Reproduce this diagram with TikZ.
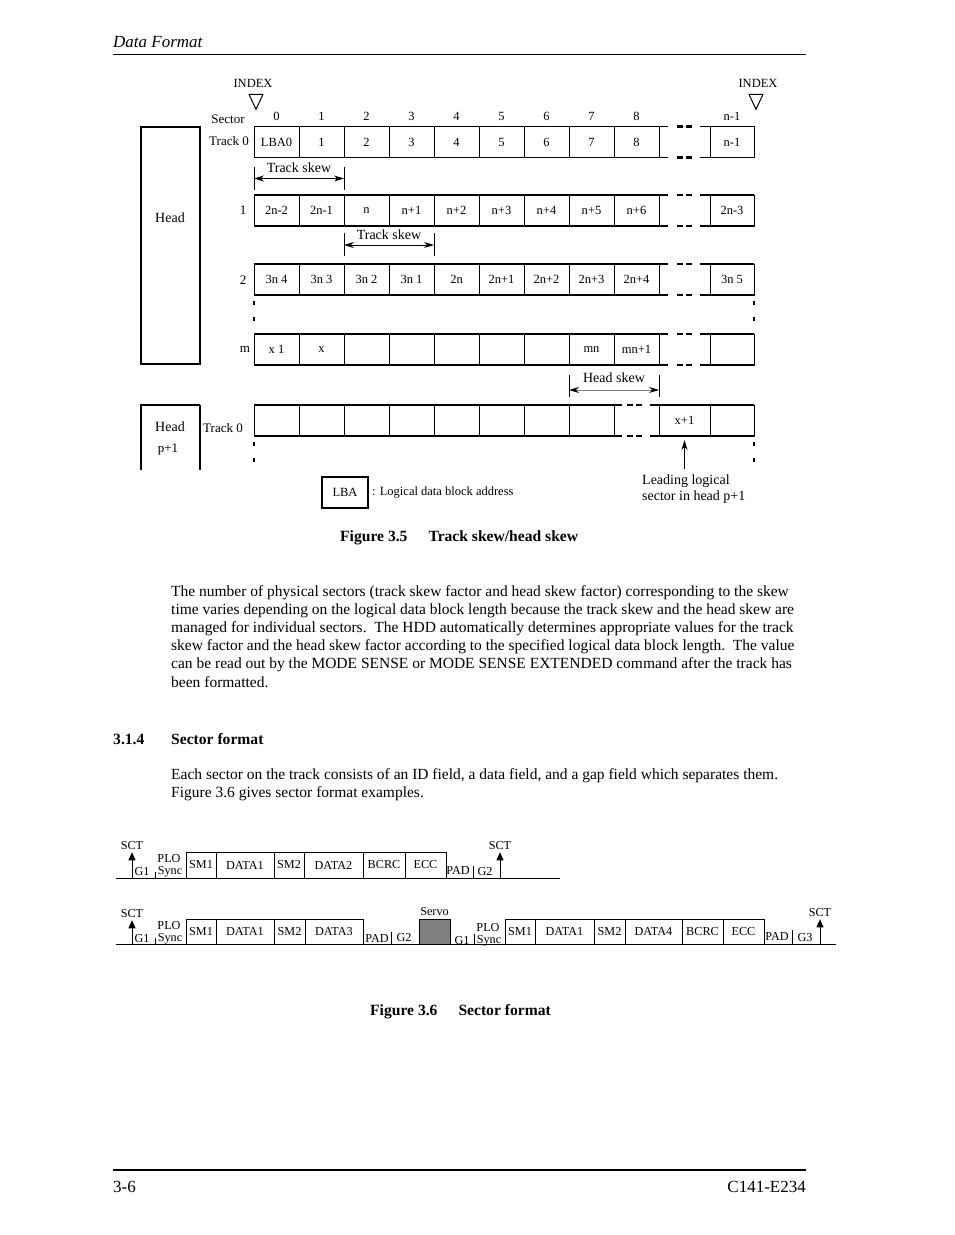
\documentclass[tikz,border=0pt]{standalone}
\usepackage{fontspec}
\setmainfont{Liberation Serif}
\usetikzlibrary{arrows.meta, positioning, calc}
\definecolor{cServo}{RGB}{128,128,128}
\tikzset{
	cell/.style   ={rectangle, draw=black, line width=0.9pt, minimum width=45pt, minimum height=31pt, inner sep=0pt, outer sep=0pt, font=\fontsize{12.5}{14}\selectfont},
	num/.style    ={inner sep=0pt, font=\fontsize{12.5}{14}\selectfont},
	lbl/.style    ={inner sep=0pt, font=\fontsize{13}{15}\selectfont},
	lblbig/.style ={inner sep=0pt, font=\fontsize{14}{16}\selectfont},
	rowedge/.style={line width=1.5pt},
	brk/.style    ={line width=2.4pt, dash pattern=on 6pt off 3pt},
	vdots/.style  ={line width=2.6pt, dash pattern=on 4pt off 12pt},
	skew/.style   ={{Stealth[length=10pt,width=6pt]}-{Stealth[length=10pt,width=6pt]}, line width=0.9pt},
	tick/.style   ={line width=0.8pt},
	% sector format styles
	fld/.style    ={rectangle, draw=black, line width=0.8pt, minimum height=26pt, inner sep=0pt, outer sep=0pt, font=\fontsize{12.2}{14}\selectfont},
	ftxt/.style   ={inner sep=0pt, font=\fontsize{12.2}{13}\selectfont},
	sct/.style    ={-{Triangle[length=8pt,width=7pt]}, line width=0.9pt},
	body/.style   ={inner sep=0pt, align=left, anchor=north west, font=\fontsize{15.5}{18.2}\selectfont},
	capt/.style   ={inner sep=0pt, anchor=west, font=\fontsize{15.6}{18}\selectfont\bfseries},
	pagetxt/.style={inner sep=0pt, font=\fontsize{17}{20}\selectfont},
}
\begin{document}
\begin{tikzpicture}[x=1pt, y=-1pt]
	\useasboundingbox (0,0) rectangle (954,1235);
	% page header
	\node[pagetxt, anchor=base west, font=\fontsize{17}{20}\selectfont\itshape] (hdr) at (113,47) {Data Format};
	\draw[line width=1pt] (113,54) -- (806,54);

	% Figure 3.5
	\node[draw, line width=1.2pt, minimum width=59pt, minimum height=237pt, inner sep=0pt] (head) at (170.5,245.5) {};
	\node[lblbig] (headtxt) at (170,218) {Head};
	\draw[line width=1.2pt] (141,470) -- (141,405) -- (200,405);
	\draw[line width=2pt] (200,405) -- (200,470);
	\node[lblbig] (headp) at (170,427) {Head};
	\node[lbl] (headpn) at (168,450) {p+1};

	\foreach \t [count=\i from 0] in {LBA0,1,2,3,4,5,6,7,8}
		\node[cell] (r0-\i) at ({276.5+45*\i},142) {\t};
	\node[cell, minimum width=44pt] (r0-l) at (732,142) {n-1};
	\foreach \t [count=\i from 0] in {2n-2,2n-1,n,n+1,n+2,n+3,n+4,n+5,n+6}
		\node[cell] (r1-\i) at ({276.5+45*\i},210.5) {\t};
	\node[cell, minimum width=44pt] (r1-l) at (732,210.5) {2n-3};
	\foreach \t [count=\i from 0] in {3n 4,3n 3,3n 2,3n 1,2n,2n+1,2n+2,2n+3,2n+4}
		\node[cell] (r2-\i) at ({276.5+45*\i},279.5) {\t};
	\node[cell, minimum width=44pt] (r2-l) at (732,279.5) {3n 5};
	\foreach \t [count=\i from 0] in {x 1,x,,,,,,mn,mn+1}
		\node[cell] (rm-\i) at ({276.5+45*\i},349.5) {\t};
	\node[cell, minimum width=44pt] (rm-l) at (732,349.5) {};

	% heavy row edges and breaks
	\foreach \r/\lw in {0/1.5, 1/1.5, 2/1.5, m/2.2}
		\foreach \aw/\ae in {north west/north east, south west/south east}{
			\draw[rowedge, line width=\lw pt] (r\r-0.\aw) -- (r\r-8.\ae) -- ++(9,0);
			\draw[brk] ($(r\r-8.\ae)+(18,0)$) -- ++(16,0);
			\draw[rowedge, line width=\lw pt] ($(r\r-l.\aw)+(-10,0)$) -- (r\r-l.\ae);
		}

	% head p+1, track 0
	\foreach \i in {0,...,7}
		\node[cell] (rp-\i) at ({276.5+45*\i},420.5) {};
	\node[cell, minimum width=51pt] (rp-x) at (684.5,420.5) {x+1};
	\node[cell, minimum width=44pt] (rp-l) at (732,420.5) {};
	\foreach \aw/\ae in {north west/north east, south west/south east}{
		\draw[line width=2pt] (rp-0.\aw) -- (rp-7.\ae) -- ++(8,0);
		\draw[brk] ($(rp-7.\ae)+(13,0)$) -- ++(15,0);
		\draw[line width=2pt] ($(rp-x.\aw)+(-9,0)$) -- (rp-l.\ae);
	}

	% sector numbers and index marks
	\foreach \t [count=\i from 0] in {0,...,8}
		\node[num] (sn-\i) at ($(r0-\i.north)+(0,-10)$) {\t};
	\node[num] (sn-l) at ($(r0-l.north)+(0,-10)$) {n-1};
	\node[num] (idx1) at (253,83) {INDEX};
	\draw[line width=1pt] ($(idx1.south)+(-4,7)$) -- ++(14,0) -- ++(-7,15) -- cycle;
	\node[num] (idx2) at (758,83) {INDEX};
	\draw[line width=1pt] ($(idx2.south)+(-9,7)$) -- ++(14,0) -- ++(-7,15) -- cycle;

	\node[lbl] (lsec) at (228,119) {Sector};
	\node[lbl] (lt0) at (229,141) {Track 0};
	\node[lbl] (lt1) at (243,210) {1};
	\node[lbl] (lt2) at (243,280) {2};
	\node[lbl] (ltm) at (245,349) {m};
	\node[lbl] (ltp) at (223,428) {Track 0};

	\draw[vdots] ($(r2-0.south west)+(0,6)$) -- ++(0,22);
	\draw[vdots] ($(r2-l.south east)+(0,6)$) -- ++(0,22);
	\draw[vdots] ($(rp-0.south west)+(0,6)$) -- ++(0,22);
	\draw[vdots] ($(rp-l.south east)+(0,6)$) -- ++(0,22);

	% skew arrows
	\coordinate (ts1l) at ($(r0-0.south west)+(0,21)$);
	\coordinate (ts1r) at ($(r0-1.south east)+(0,21)$);
	\draw[tick] ($(ts1l)+(0,-12)$) -- ++(0,23);
	\draw[tick] ($(ts1r)+(0,-12)$) -- ++(0,23);
	\draw[skew] (ts1l) -- (ts1r);
	\node[lblbig] (ts1) at ($(ts1l)!0.5!(ts1r)+(0,-11)$) {Track skew};

	\coordinate (ts2l) at ($(r1-1.south east)+(0,19)$);
	\coordinate (ts2r) at ($(r1-3.south east)+(0,19)$);
	\draw[tick] ($(ts2l)+(0,-12)$) -- ++(0,23);
	\draw[tick] ($(ts2r)+(0,-12)$) -- ++(0,23);
	\draw[skew] (ts2l) -- (ts2r);
	\node[lblbig] (ts2) at ($(ts2l)!0.5!(ts2r)+(0,-10)$) {Track skew};

	\coordinate (hsl) at ($(rm-7.south west)+(0,25)$);
	\coordinate (hsr) at ($(rm-8.south east)+(0,25)$);
	\draw[tick] ($(hsl)+(0,-15)$) -- ++(0,22);
	\draw[tick] ($(hsr)+(0,-15)$) -- ++(0,22);
	\draw[skew, draw=gray, {Stealth[length=10pt,width=6pt,color=black]}-{Stealth[length=10pt,width=6pt,color=black]}] (hsl) -- (hsr);
	\node[lblbig] (hs) at ($(hsl)!0.5!(hsr)+(0,-12)$) {Head skew};

	\node[lblbig, align=left, anchor=north west] (lead) at (642,475) {Leading logical\\sector in head p+1};
	\draw[-{Stealth[length=10pt,width=6pt]}, line width=0.9pt] ($(rp-x.south |- lead.north)+(0,-6)$) -- ($(rp-x.south)+(0,4)$);

	\node[cell, minimum width=46pt, line width=1.1pt] (lba) at (345,492.5) {LBA};
	\node[num, right=4pt of lba] (lbatxt) {: Logical data block address};

	\node[capt] (cap1) at (340,538) {Figure 3.5\hspace{21pt}Track skew/head skew};

	% text
	\node[body] (para1) at (171,585) {The number of physical sectors (track skew factor and head skew factor) corresponding to the skew\\
		time varies depending on the logical data block length because the track skew and the head skew are\\
		managed for individual sectors.\ \ The HDD automatically determines appropriate values for the track\\
		skew factor and the head skew factor according to the specified logical data block length.\ \ The value\\
		can be read out by the MODE SENSE or MODE SENSE EXTENDED command after the track has\\
		been formatted.};
	\node[capt] (secno) at (113,739) {3.1.4};
	\node[capt] (sectit) at (171,739) {Sector format};
	\node[body] (para2) at (171,768) {Each sector on the track consists of an ID field, a data field, and a gap field which separates them.\\
		Figure 3.6 gives sector format examples.};

	% Figure 3.6, first format
	\coordinate (f1a) at (116,878);
	\coordinate (f1b) at (560,878);
	\draw[line width=0.9pt] (f1a) -- (f1b);
	\node[fld, minimum width=30pt, anchor=south west] (a-sm1) at (186,878) {SM1};
	\node[fld, minimum width=58pt, right=0pt of a-sm1] (a-d1) {DATA1};
	\node[fld, minimum width=30pt, right=0pt of a-d1] (a-sm2) {SM2};
	\node[fld, minimum width=59pt, right=0pt of a-sm2] (a-d2) {DATA2};
	\node[fld, minimum width=42pt, right=0pt of a-d2] (a-bcrc) {BCRC};
	\node[fld, minimum width=41pt, right=0pt of a-bcrc] (a-ecc) {ECC};
	\node[ftxt] (a-sct1) at (132,846) {SCT};
	\draw[sct] (a-sct1.south |- f1a) -- ($(a-sct1.south)+(0,2)$);
	\node[ftxt] (a-g1) at (142,872) {G1};
	\draw[tick] (155,878) -- ++(0,-6);
	\node[ftxt] (a-plo) at (169,859) {PLO};
	\node[ftxt] (a-sync) at (170,872) {Sync};
	\node[ftxt] (a-pad) at (458,870) {PAD};
	\draw[tick] (473,878) -- ++(0,-12);
	\node[ftxt] (a-g2) at (485,872) {G2};
	\node[ftxt] (a-sct2) at (500,846) {SCT};
	\draw[sct] (a-sct2.south |- f1a) -- ($(a-sct2.south)+(0,2)$);

	% Figure 3.6, second format
	\coordinate (f2a) at (116,944);
	\coordinate (f2b) at (836,944);
	\draw[line width=0.9pt] (f2a) -- (f2b);
	\node[fld, minimum height=25pt, minimum width=30pt, anchor=south west] (b-sm1) at (186,944) {SM1};
	\node[fld, minimum height=25pt, minimum width=58pt, right=0pt of b-sm1] (b-d1) {DATA1};
	\node[fld, minimum height=25pt, minimum width=31pt, right=0pt of b-d1] (b-sm2) {SM2};
	\node[fld, minimum height=25pt, minimum width=58pt, right=0pt of b-sm2] (b-d3) {DATA3};
	\node[fld, minimum height=25pt, minimum width=31pt, fill=cServo, anchor=south west] (servo) at (419,944) {};
	\node[ftxt, above=3pt of servo] (servotxt) {Servo};
	\node[fld, minimum height=25pt, minimum width=30pt, anchor=south west] (c-sm1) at (505,944) {SM1};
	\node[fld, minimum height=25pt, minimum width=59pt, right=0pt of c-sm1] (c-d1) {DATA1};
	\node[fld, minimum height=25pt, minimum width=31pt, right=0pt of c-d1] (c-sm2) {SM2};
	\node[fld, minimum height=25pt, minimum width=57pt, right=0pt of c-sm2] (c-d4) {DATA4};
	\node[fld, minimum height=25pt, minimum width=41pt, right=0pt of c-d4] (c-bcrc) {BCRC};
	\node[fld, minimum height=25pt, minimum width=41pt, right=0pt of c-bcrc] (c-ecc) {ECC};
	\node[ftxt] (b-sct1) at (132,914) {SCT};
	\draw[sct] (b-sct1.south |- f2a) -- ($(b-sct1.south)+(0,2)$);
	\node[ftxt] (b-g1) at (142,939) {G1};
	\draw[tick] (155,944) -- ++(0,-6);
	\node[ftxt] (b-plo) at (169,926) {PLO};
	\node[ftxt] (b-sync) at (170,939) {Sync};
	\node[ftxt] (b-pad) at (377,938) {PAD};
	\draw[tick] (391,944) -- ++(0,-12);
	\node[ftxt] (b-g2) at (404,938) {G2};
	\node[ftxt] (c-g1) at (462,941) {G1};
	\draw[tick] (474,944) -- ++(0,-10);
	\node[ftxt] (c-plo) at (488,928) {PLO};
	\node[ftxt] (c-sync) at (489,941) {Sync};
	\node[ftxt] (c-pad) at (777,936) {PAD};
	\draw[tick] (792,944) -- ++(0,-14);
	\node[ftxt] (c-g3) at (805,938) {G3};
	\node[ftxt] (c-sct) at (820,913) {SCT};
	\draw[sct] (c-sct.south |- f2a) -- ($(c-sct.south)+(0,2)$);

	\node[capt] (cap2) at (370,1012) {Figure 3.6\hspace{21pt}Sector format};

	% page footer
	\draw[line width=2pt] (113,1170) -- (806,1170);
	\node[pagetxt, anchor=west] (pgno) at (113,1187) {3-6};
	\node[pagetxt, anchor=east] (docno) at (806,1187) {C141-E234};
\end{tikzpicture}
\end{document}
